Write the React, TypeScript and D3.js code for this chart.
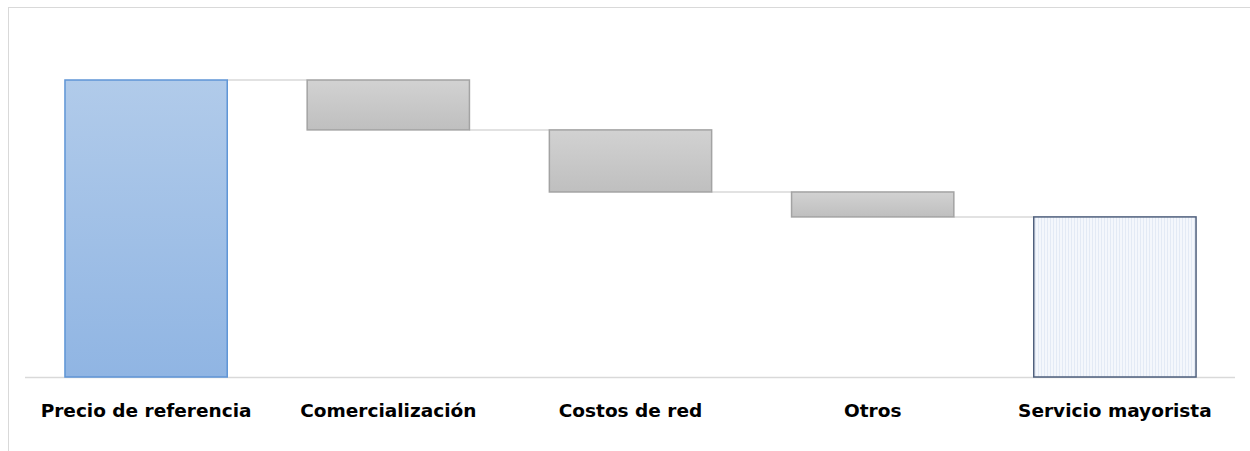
import React from "react";
import * as d3 from "d3";

const categories = ["Precio de referencia", "Comercialización", "Costos de red", "Otros", "Servicio mayorista"];
const values = [100, -16.8, -20.9, -8.4, 53.9];
const kinds = ["total", "delta", "delta", "delta", "total"];

const W = 1250, H = 451;

export default function App() {
  const x = d3.scaleBand<string>().domain(categories).range([25, 1236]).paddingInner(0.33).paddingOuter(0.165);
  const y = d3.scaleLinear().domain([0, 120]).range([377, 20.6]);

  let running = 0;
  const bars = categories.map((c, i) => {
    let y0: number, y1: number;
    if (kinds[i] === "total") {
      y0 = 0; y1 = values[i]; running = values[i];
    } else {
      y0 = running; y1 = running + values[i]; running = y1;
    }
    return { c, i, lo: Math.min(y0, y1), hi: Math.max(y0, y1), end: running, kind: kinds[i] };
  });

  return (
    <svg width={W} height={H} style={{ position: "absolute", left: 0, top: 0, background: "#fff" }}>
      <defs>
        <linearGradient id="gBlue" x1="0" y1="0" x2="0" y2="1">
          <stop offset="0" stopColor="#B1CBEA" />
          <stop offset="1" stopColor="#90B5E3" />
        </linearGradient>
        <linearGradient id="gGray" x1="0" y1="0" x2="0" y2="1">
          <stop offset="0" stopColor="#D2D2D2" />
          <stop offset="1" stopColor="#BFBFBF" />
        </linearGradient>
        <pattern id="pStripe" width="3" height="4" patternUnits="userSpaceOnUse">
          <rect width="3" height="4" fill="#F4F7FC" />
          <rect width="1" height="4" fill="#E3EAF5" />
        </pattern>
      </defs>
      <rect x={8.5} y={7.5} width={W + 10} height={H + 10} fill="none" stroke="#D9D9D9" strokeWidth={1} />
      {bars.slice(0, -1).map((b, i) => {
        const next = bars[i + 1];
        return (
          <line key={"c" + i} x1={x(b.c)! + x.bandwidth()} x2={x(next.c)!} y1={y(b.end)} y2={y(b.end)}
            stroke="#D9D9D9" strokeWidth={1.5} />
        );
      })}
      <line x1={25} x2={1235} y1={377.5} y2={377.5} stroke="#D9D9D9" strokeWidth={1.5} />
      {bars.map((b) => {
        const fill = b.i === 0 ? "url(#gBlue)" : b.kind === "total" ? "url(#pStripe)" : "url(#gGray)";
        const stroke = b.i === 0 ? "#5F95D6" : b.kind === "total" ? "#4E5F7C" : "#A3A3A3";
        return (
          <rect key={b.c} x={x(b.c)!} y={y(b.hi)} width={x.bandwidth()} height={y(b.lo) - y(b.hi)}
            fill={fill} stroke={stroke} strokeWidth={1.5} />
        );
      })}
      {categories.map((c) => (
        <text key={"t" + c} x={x(c)! + x.bandwidth() / 2} y={417} textAnchor="middle"
          fontFamily="'DejaVu Sans', sans-serif" fontSize={18.5} fontWeight="bold" fill="#000">
          {c}
        </text>
      ))}
    </svg>
  );
}
